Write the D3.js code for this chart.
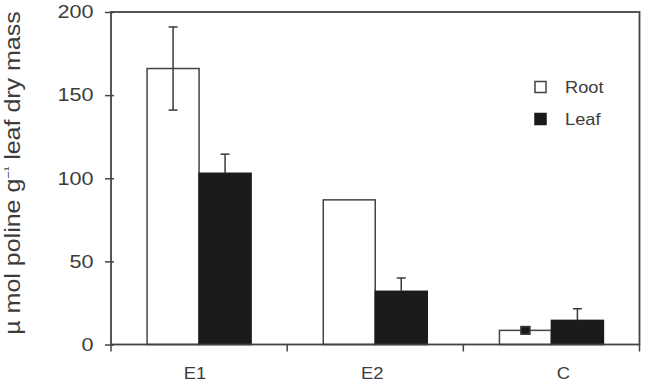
<!DOCTYPE html>
<html>
<head>
<meta charset="utf-8">
<script src="https://cdn.jsdelivr.net/npm/d3@7"></script>
<style>
  body { margin: 0; background: #fff; }
  text { font-family: "Liberation Sans", Arial, sans-serif; fill: #3c3c3c; }
</style>
</head>
<body>
<svg class="chart"></svg>
<script>
const categories = ['E1', 'E2', 'C'];
const series = ['Root', 'Leaf'];
const rootValues = [166, 87, 8.5];
const rootErrors = [25, 0, 2.3];
const leafValues = [103, 32, 14.5];
const leafErrors = [11.5, 8, 7];
const yTicks = [0, 50, 100, 150, 200];

const width = 647;
const height = 382;
const svg = d3.select('.chart').attr('width', width).attr('height', height);

const plotLeft = 111, plotRight = 639.5, plotTop = 12, plotBottom = 344.5;
const axisColor = '#444';

const x = d3.scaleBand().domain(categories).range([plotLeft, plotRight]).paddingInner(0).paddingOuter(0);
const xs = d3.scaleBand().domain(series).range([0, x.bandwidth()]).paddingInner(0).paddingOuter(0.694);
const y = d3.scaleLinear().domain([0, 200]).range([plotBottom, plotTop]);

const data = [];
categories.forEach((c, i) => {
  data.push({cat: c, s: 'Root', v: rootValues[i], e: rootErrors[i]});
  data.push({cat: c, s: 'Leaf', v: leafValues[i], e: leafErrors[i]});
});

// bars
svg.append('g').selectAll('rect').data(data).join('rect')
  .attr('x', d => x(d.cat) + xs(d.s))
  .attr('y', d => y(d.v))
  .attr('width', xs.bandwidth())
  .attr('height', d => y(0) - y(d.v))
  .attr('fill', d => d.s === 'Root' ? '#fff' : '#1b1b1b')
  .attr('stroke', d => d.s === 'Root' ? '#444' : '#1b1b1b')
  .attr('stroke-width', 1.5);

// error bars (leaf ones only show above the black bar)
const eb = svg.append('g').attr('stroke', '#3a3a3a').attr('stroke-width', 1.5);
data.filter(d => d.e > 0).forEach(d => {
  const cx = x(d.cat) + xs(d.s) + xs.bandwidth() / 2;
  const cap = 4.5;
  if (d.e < 3) {
    eb.append('rect')
      .attr('x', cx - cap).attr('y', y(d.v + d.e))
      .attr('width', cap * 2).attr('height', y(d.v - d.e) - y(d.v + d.e))
      .attr('fill', '#1b1b1b');
    return;
  }
  const lo = d.s === 'Leaf' ? d.v : d.v - d.e;
  eb.append('line').attr('x1', cx).attr('x2', cx).attr('y1', y(lo)).attr('y2', y(d.v + d.e));
  eb.append('line').attr('x1', cx - cap).attr('x2', cx + cap).attr('y1', y(d.v + d.e)).attr('y2', y(d.v + d.e));
  if (d.s === 'Root') {
    eb.append('line').attr('x1', cx - cap).attr('x2', cx + cap).attr('y1', y(d.v - d.e)).attr('y2', y(d.v - d.e));
  }
});

// frame
svg.append('rect')
  .attr('x', plotLeft).attr('y', plotTop).attr('width', plotRight - plotLeft).attr('height', plotBottom - plotTop)
  .attr('fill', 'none').attr('stroke', axisColor).attr('stroke-width', 1.8);

// y axis
const yAxis = svg.append('g').attr('transform', `translate(${plotLeft},0)`)
  .call(d3.axisLeft(y).tickValues(yTicks).tickSize(5).tickPadding(9));
yAxis.select('.domain').remove();
yAxis.selectAll('.tick line').attr('stroke', axisColor).attr('stroke-width', 1.5).attr('x2', -6).attr('x1', 3);
yAxis.selectAll('.tick text')
  .attr('font-size', 18).attr('fill', '#3c3c3c')
  .attr('transform', 'scale(1.2,1)')
  .attr('x', -17.5 / 1.2);

// x axis
const xTickPos = [plotLeft, x('E2'), x('C'), plotRight];
svg.append('g').selectAll('line').data(xTickPos).join('line')
  .attr('x1', d => d).attr('x2', d => d)
  .attr('y1', plotBottom).attr('y2', plotBottom + 7)
  .attr('stroke', axisColor).attr('stroke-width', 1.5);
// the original labels sit a little off the band centres
const labelShift = {E1: -4, E2: -3, C: 12};
svg.append('g').selectAll('text').data(categories).join('text')
  .attr('transform', d => `translate(${x(d) + x.bandwidth() / 2 + labelShift[d]},378.5) scale(1.15,1)`)
  .attr('text-anchor', 'middle')
  .attr('font-size', 16)
  .text(d => d);

// y label
const yl = svg.append('text')
  .attr('transform', `translate(20,173) scale(0.85,1) rotate(-90)`)
  .attr('text-anchor', 'middle')
  .attr('font-size', 25);
yl.append('tspan').text('\u00b5 mol poline g');
yl.append('tspan').attr('font-size', 13).attr('dy', -10).text('\u2212\u00b9');
yl.append('tspan').attr('dy', 10).text(' leaf dry mass');

// legend
const legend = svg.append('g');
series.forEach((s, i) => {
  const gy = 81.5 + i * 32;
  legend.append('rect')
    .attr('x', 535).attr('y', gy).attr('width', 11).attr('height', 11)
    .attr('fill', s === 'Root' ? '#fff' : '#1b1b1b')
    .attr('stroke', s === 'Root' ? '#444' : '#1b1b1b').attr('stroke-width', 1.5);
  legend.append('text')
    .attr('transform', `translate(565,${gy + 11.5}) scale(1.14,1)`)
    .attr('font-size', 16)
    .text(s);
});
</script>
</body>
</html>
